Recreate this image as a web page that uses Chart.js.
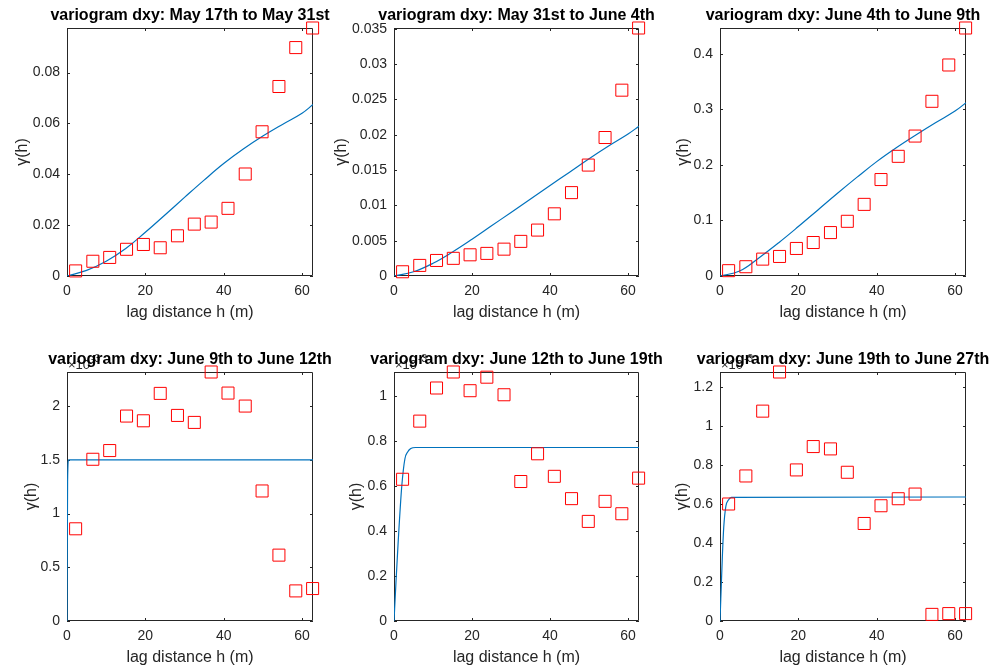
<!DOCTYPE html>
<html><head><meta charset="utf-8">
<script src="https://cdn.jsdelivr.net/npm/chart.js@4/dist/chart.umd.min.js"></script>
<style>
html,body{margin:0;padding:0;background:#fff;}
#wrap{position:relative;width:997px;height:672px;overflow:hidden;background:#fff;}
canvas{position:absolute;}
</style></head><body><div id="wrap"></div>
<script>
// ---- data ----
const lags = [2.2, 6.6, 10.9, 15.2, 19.5, 23.8, 28.2, 32.5, 36.8, 41.1, 45.5, 49.8, 54.1, 58.4, 62.7];

const titles = [
  'variogram dxy: May 17th to May 31st',
  'variogram dxy: May 31st to June 4th',
  'variogram dxy: June 4th to June 9th',
  'variogram dxy: June 9th to June 12th',
  'variogram dxy: June 12th to June 19th',
  'variogram dxy: June 19th to June 27th'
];

const gamma1 = [0.0020, 0.0058, 0.0073, 0.0105, 0.0124, 0.0111, 0.0158, 0.0204, 0.0212, 0.0266, 0.0401, 0.0567, 0.0745, 0.0898, 0.0975];
const gamma2 = [0.0006, 0.0015, 0.0022, 0.0025, 0.0030, 0.0032, 0.0038, 0.0049, 0.0065, 0.0088, 0.0118, 0.0157, 0.0196, 0.0263, 0.0351];
const gamma3 = [0.0096, 0.0167, 0.0304, 0.0352, 0.0496, 0.0603, 0.0782, 0.0985, 0.129, 0.1737, 0.2155, 0.252, 0.3146, 0.380, 0.4466];
const gamma4 = [0.858, 1.505, 1.586, 1.907, 1.863, 2.118, 1.913, 1.848, 2.317, 2.121, 2.0, 1.21, 0.613, 0.280, 0.302];
const gamma5 = [0.629, 0.887, 1.034, 1.105, 1.022, 1.082, 1.004, 0.619, 0.742, 0.642, 0.543, 0.442, 0.531, 0.476, 0.634];
const gamma6 = [0.601, 0.745, 1.078, 1.279, 0.776, 0.896, 0.884, 0.764, 0.501, 0.592, 0.628, 0.652, 0.034, 0.038, 0.038];

// fitted model curves
const fitH1 = [0, 5, 10, 15, 20, 25, 30, 35, 40, 45, 50, 55, 60, 62.8];
const fit1  = [0, 0.0022, 0.0058, 0.0108, 0.0172, 0.0240, 0.0309, 0.0377, 0.0442, 0.0499, 0.0550, 0.0596, 0.0640, 0.0674];
const fitH2 = [0, 5, 10, 15, 20, 25, 30, 35, 40, 45, 50, 55, 60, 62.8];
const fit2  = [0, 0.0006, 0.0018, 0.0034, 0.0052, 0.0071, 0.0090, 0.0109, 0.0128, 0.0147, 0.0166, 0.0184, 0.0201, 0.0212];
const fitH3 = [0, 5, 10, 15, 20, 25, 30, 35, 40, 45, 50, 55, 60, 62.8];
const fit3  = [0, 0.009, 0.033, 0.060, 0.089, 0.119, 0.149, 0.178, 0.206, 0.231, 0.254, 0.276, 0.297, 0.312];
const fitH4 = [0, 0.15, 0.4, 62.8];
const fit4  = [0, 1.30, 1.50, 1.50];
const fitH5 = [0, 0.5, 1.1, 2.0, 2.8, 3.5, 4.3, 5.5, 62.8];
const fit5  = [0, 0.17, 0.36, 0.60, 0.72, 0.75, 0.765, 0.77, 0.77];
const fitH6 = [0, 0.6, 0.95, 1.5, 2.1, 2.9, 62.8];
const fit6  = [0, 0.33, 0.48, 0.59, 0.62, 0.635, 0.637];

// axis ticks and limits
const xTicks = [0, 20, 40, 60];
const xTickLabels = ['0', '20', '40', '60'];
const xMax = 62.8;
const yTicks1 = [0, 0.02, 0.04, 0.06, 0.08];
const yTickLabels1 = ['0', '0.02', '0.04', '0.06', '0.08'];
const yTicks2 = [0, 0.005, 0.01, 0.015, 0.02, 0.025, 0.03, 0.035];
const yTickLabels2 = ['0', '0.005', '0.01', '0.015', '0.02', '0.025', '0.03', '0.035'];
const yTicks3 = [0, 0.1, 0.2, 0.3, 0.4];
const yTickLabels3 = ['0', '0.1', '0.2', '0.3', '0.4'];
const yTicks4 = [0, 0.5, 1, 1.5, 2];
const yTickLabels4 = ['0', '0.5', '1', '1.5', '2'];
const yTicks5 = [0, 0.2, 0.4, 0.6, 0.8, 1];
const yTickLabels5 = ['0', '0.2', '0.4', '0.6', '0.8', '1'];
const yTicks6 = [0, 0.2, 0.4, 0.6, 0.8, 1, 1.2];
const yTickLabels6 = ['0', '0.2', '0.4', '0.6', '0.8', '1', '1.2'];
const yMaxes = [0.0975, 0.0351, 0.4466, 2.317, 1.105, 1.279];
const yExponents = [null, null, null, '-3', '-3', '-3'];
const xLabel = 'lag distance h (m)';
const yLabel = 'γ(h)';

// ---- layout (canvas rects and plot areas) ----
const panels = [
  {cx:0,   cy:0,   cw:332, ch:336, L:67, T:28, R:313, B:276, yt:13, smooth:true},
  {cx:332, cy:0,   cw:332, ch:336, L:62, T:28, R:307, B:276, yt:0,  smooth:true},
  {cx:664, cy:0,   cw:333, ch:336, L:56, T:28, R:302, B:276, yt:10, smooth:true},
  {cx:0,   cy:336, cw:332, ch:336, L:67, T:36, R:313, B:285, yt:22, smooth:false},
  {cx:332, cy:336, cw:332, ch:336, L:62, T:36, R:307, B:285, yt:15, smooth:false},
  {cx:664, cy:336, cw:333, ch:336, L:56, T:36, R:302, B:285, yt:9,  smooth:false}
];
const gammas = [gamma1, gamma2, gamma3, gamma4, gamma5, gamma6];
const fitHs = [fitH1, fitH2, fitH3, fitH4, fitH5, fitH6];
const fits = [fit1, fit2, fit3, fit4, fit5, fit6];
const yTicksAll = [yTicks1, yTicks2, yTicks3, yTicks4, yTicks5, yTicks6];
const yTickLabelsAll = [yTickLabels1, yTickLabels2, yTickLabels3, yTickLabels4, yTickLabels5, yTickLabels6];

const FONT = '"Liberation Sans", Arial, Helvetica, sans-serif';
const AXC = '#262626';

const boxPlugin = {
  id: 'matlabBox',
  beforeDraw(chart, args, opts) {
    if (!opts.exp) return;
    const ctx = chart.ctx, a = chart.chartArea;
    ctx.save();
    ctx.fillStyle = AXC;
    ctx.textBaseline = 'alphabetic';
    ctx.textAlign = 'left';
    ctx.font = '13px ' + FONT;
    const base = '\u00d710';
    ctx.fillText(base, a.left + 1, a.top - 3);
    const w = ctx.measureText(base).width;
    ctx.font = '10px ' + FONT;
    ctx.fillText(opts.exp, a.left + 1 + w + 1, a.top - 10);
    ctx.restore();
  },
  beforeDatasetsDraw(chart) {
    const ctx = chart.ctx, a = chart.chartArea;
    const xs = chart.scales.x, ys = chart.scales.y;
    ctx.save();
    ctx.strokeStyle = AXC;
    ctx.lineWidth = 1;
    ctx.beginPath();
    ctx.rect(Math.round(a.left) + 0.5, Math.round(a.top) + 0.5, Math.round(a.right - a.left) - 1, Math.round(a.bottom - a.top) - 1);
    ctx.stroke();
    const tl = 3;
    ctx.beginPath();
    xs.ticks.forEach(t => {
      const px = Math.round(xs.getPixelForValue(t.value)) + 0.5;
      ctx.moveTo(px, a.bottom); ctx.lineTo(px, a.bottom - tl);
      ctx.moveTo(px, a.top); ctx.lineTo(px, a.top + tl);
    });
    ys.ticks.forEach(t => {
      const py = Math.round(ys.getPixelForValue(t.value)) + 0.5;
      ctx.moveTo(a.left, py); ctx.lineTo(a.left + tl, py);
      ctx.moveTo(a.right, py); ctx.lineTo(a.right - tl, py);
    });
    ctx.stroke();
    ctx.restore();
  },
  afterDraw(chart, args, opts) {
    const ctx = chart.ctx, a = chart.chartArea;
    ctx.save();
    ctx.fillStyle = '#000';
    ctx.font = 'bold 16px ' + FONT;
    ctx.textAlign = 'center';
    ctx.textBaseline = 'alphabetic';
    ctx.fillText(opts.title, (a.left + a.right) / 2, a.top - 8.5);
    ctx.restore();
  }
};

const wrap = document.getElementById('wrap');
panels.forEach((p, i) => {
  const cv = document.createElement('canvas');
  cv.width = p.cw; cv.height = p.ch;
  cv.style.left = p.cx + 'px'; cv.style.top = p.cy + 'px';
  cv.style.width = p.cw + 'px'; cv.style.height = p.ch + 'px';
  wrap.appendChild(cv);
  const yT = yTicksAll[i], yL = yTickLabelsAll[i];
  const lineDs = {
    type: 'line',
    data: fitHs[i].map((h, k) => ({x: h, y: fits[i][k]})),
    borderColor: '#0072BD',
    borderWidth: 1.2,
    pointRadius: 0,
    fill: false,
    order: 2
  };
  if (p.smooth) { lineDs.tension = 0.4; } else { lineDs.cubicInterpolationMode = 'monotone'; }
  new Chart(cv, {
    type: 'scatter',
    data: {
      datasets: [
        {
          type: 'scatter',
          data: lags.map((h, k) => ({x: h, y: gammas[i][k]})),
          pointStyle: 'rect',
          pointRadius: 8.5,
          pointHoverRadius: 8.5,
          borderColor: '#FF0000',
          backgroundColor: 'rgba(0,0,0,0)',
          borderWidth: 1,
          clip: false,
          order: 1
        },
        lineDs
      ]
    },
    options: {
      responsive: false,
      animation: false,
      devicePixelRatio: 1,
      events: [],
      layout: {padding: {top: p.T, right: p.cw - p.R, bottom: 0, left: 0}},
      plugins: {
        legend: {display: false},
        tooltip: {enabled: false},
        title: {display: false},
        matlabBox: {title: titles[i], exp: yExponents[i]}
      },
      scales: {
        x: {
          type: 'linear', min: 0, max: xMax,
          afterBuildTicks: s => { s.ticks = xTicks.map(v => ({value: v})); },
          afterFit: s => { s.height = p.ch - p.B; },
          ticks: {
            autoSkip: false, maxRotation: 0, padding: 7,
            color: AXC, font: {family: FONT, size: 14},
            callback: (v, idx) => xTickLabels[idx]
          },
          grid: {display: false, drawTicks: false},
          border: {display: false},
          title: {display: true, text: xLabel, color: AXC, font: {family: FONT, size: 16}, padding: {top: 0, bottom: (i < 3 ? 14 : 5)}}
        },
        y: {
          type: 'linear', min: 0, max: yMaxes[i],
          afterBuildTicks: s => { s.ticks = yT.map(v => ({value: v})); },
          afterFit: s => { s.width = p.L; },
          ticks: {
            autoSkip: false, padding: 7,
            color: AXC, font: {family: FONT, size: 14},
            callback: (v, idx) => yL[idx]
          },
          grid: {display: false, drawTicks: false},
          border: {display: false},
          title: {display: true, text: yLabel, color: AXC, font: {family: FONT, size: 16}, padding: {top: p.yt, bottom: 0}}
        }
      }
    },
    plugins: [boxPlugin]
  });
});
</script>
</body></html>
